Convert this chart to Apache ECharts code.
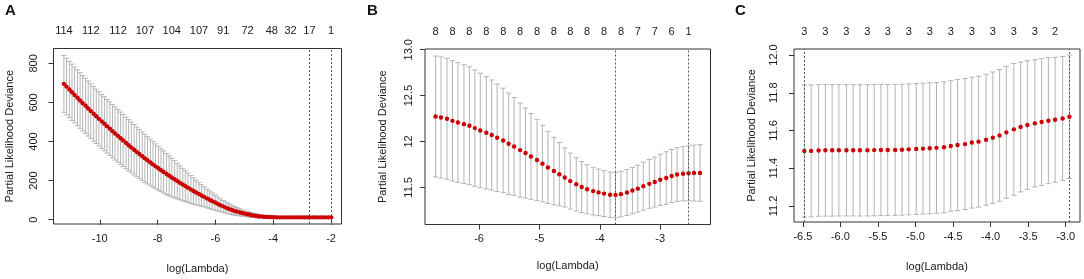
<!DOCTYPE html>
<html>
<head>
<meta charset="utf-8">
<title>cv.glmnet deviance</title>
<script src="https://cdn.jsdelivr.net/npm/echarts@6/dist/echarts.min.js"></script>
<style>
  html, body { margin: 0; padding: 0; background: #fff; }
  #chart { width: 1084px; height: 279px; }
</style>
</head>
<body>
<div id="chart"></div>
<script>
// ---- panel A ----
const lambdaA = [
  -11.24, -11.15, -11.05, -10.96, -10.87, -10.77, -10.68, -10.59, -10.49, -10.40,
  -10.31, -10.21, -10.12, -10.03, -9.93, -9.84, -9.75, -9.65, -9.56, -9.47,
  -9.37, -9.28, -9.19, -9.09, -9.00, -8.91, -8.81, -8.72, -8.63, -8.53,
  -8.44, -8.35, -8.25, -8.16, -8.07, -7.97, -7.88, -7.79, -7.69, -7.60,
  -7.51, -7.41, -7.32, -7.23, -7.13, -7.04, -6.95, -6.85, -6.76, -6.67,
  -6.57, -6.48, -6.39, -6.29, -6.20, -6.11, -6.01, -5.92, -5.83, -5.73,
  -5.64, -5.55, -5.45, -5.36, -5.27, -5.17, -5.08, -4.99, -4.89, -4.80,
  -4.71, -4.61, -4.52, -4.43, -4.33, -4.24, -4.15, -4.05, -3.96, -3.87,
  -3.77, -3.68, -3.59, -3.49, -3.40, -3.31, -3.21, -3.12, -3.03, -2.93,
  -2.84, -2.75, -2.65, -2.56, -2.47, -2.37, -2.28, -2.19, -2.09, -2.00
];
const meanA = [
  695, 681, 666, 652, 638, 624, 610, 596, 583, 569,
  556, 542, 529, 516, 503, 491, 478, 466, 453, 441,
  429, 417, 405, 393, 381, 370, 358, 347, 336, 325,
  314, 304, 293, 283, 273, 263, 253, 244, 234, 225,
  216, 207, 198, 189, 180, 172, 164, 155, 147, 139,
  132, 124, 117, 109, 102, 95, 88, 81, 74, 68,
  62, 56, 51, 46, 42, 38, 34, 31, 28, 25,
  22, 20, 18, 17, 15, 14, 14, 13, 13, 12,
  12, 12, 12, 12, 12, 12, 12, 12, 12, 12,
  12, 12, 12, 12, 12, 12, 12, 12, 12, 12
];
const seA = [
  145, 145, 144, 144, 143, 143, 142, 142, 141, 141,
  140, 140, 139, 139, 138, 138, 137, 137, 136, 136,
  135, 134, 133, 132, 131, 130, 129, 127, 126, 124,
  123, 121, 119, 117, 115, 113, 110, 108, 105, 102,
  99, 95, 91, 87, 83, 79, 75, 71, 67, 63,
  59, 55, 51, 48, 45, 42, 39, 36, 33, 30,
  28, 26, 24, 22, 20, 18, 16, 14, 13, 12,
  11, 10, 9, 8, 7, 6, 5, 4.5, 4, 3.5,
  3, 3, 2.5, 2.5, 2, 2, 2, 2, 2, 2,
  2, 2, 2, 2, 2, 2, 2, 2, 2, 2
];
const topPosA = [-11.24, -10.31, -9.37, -8.44, -7.51, -6.57, -5.73, -4.89, -4.05, -3.40, -2.75, -2.00];
const topTextA = ['114', '112', '112', '107', '104', '107', '91', '72', '48', '32', '17', '1'];
const vlineA = [-2.75, -2.00];
const xTicksA = [-10, -8, -6, -4, -2];
const xTickTextA = ['-10', '-8', '-6', '-4', '-2'];
const yTicksA = [0, 200, 400, 600, 800];
const yTickTextA = ['0', '200', '400', '600', '800'];

// ---- panel B ----
const lambdaB = [
  -6.72, -6.63, -6.53, -6.44, -6.35, -6.25, -6.16, -6.07, -5.98, -5.88,
  -5.79, -5.70, -5.60, -5.51, -5.42, -5.32, -5.23, -5.14, -5.04, -4.95,
  -4.86, -4.76, -4.67, -4.58, -4.49, -4.39, -4.30, -4.21, -4.11, -4.02,
  -3.93, -3.83, -3.74, -3.65, -3.55, -3.46, -3.37, -3.28, -3.18, -3.09,
  -3.00, -2.90, -2.81, -2.72, -2.62, -2.53, -2.44, -2.34
];
const meanB = [
  12.272, 12.261, 12.247, 12.225, 12.207, 12.189, 12.171, 12.146, 12.120, 12.095,
  12.070, 12.040, 12.011, 11.975, 11.946, 11.906, 11.874, 11.837, 11.798, 11.758,
  11.717, 11.678, 11.643, 11.608, 11.568, 11.533, 11.503, 11.479, 11.459, 11.445,
  11.432, 11.419, 11.416, 11.426, 11.444, 11.465, 11.486, 11.513, 11.538, 11.558,
  11.582, 11.602, 11.623, 11.640, 11.649, 11.653, 11.656, 11.657
];
const seB = [
  0.659, 0.660, 0.659, 0.656, 0.652, 0.648, 0.642, 0.634, 0.624, 0.612,
  0.600, 0.586, 0.570, 0.552, 0.533, 0.512, 0.490, 0.467, 0.443, 0.418,
  0.393, 0.368, 0.344, 0.322, 0.305, 0.290, 0.278, 0.268, 0.260, 0.254,
  0.250, 0.247, 0.246, 0.248, 0.250, 0.252, 0.256, 0.261, 0.266, 0.272,
  0.279, 0.286, 0.289, 0.292, 0.295, 0.300, 0.305, 0.308
];
const topPosB = [-6.72, -6.44, -6.16, -5.88, -5.60, -5.32, -5.04, -4.76, -4.49, -4.21, -3.93, -3.65, -3.37, -3.09, -2.81, -2.53];
const topTextB = ['8', '8', '8', '8', '8', '8', '8', '8', '8', '8', '8', '8', '7', '7', '6', '1'];
const vlineB = [-3.74, -2.53];
const xTicksB = [-6, -5, -4, -3];
const xTickTextB = ['-6', '-5', '-4', '-3'];
const yTicksB = [11.5, 12, 12.5, 13];
const yTickTextB = ['11.5', '12', '12.5', '13.0'];

// ---- panel C ----
const lambdaC = [
  -6.48, -6.39, -6.29, -6.20, -6.11, -6.02, -5.92, -5.83, -5.74, -5.64,
  -5.55, -5.46, -5.37, -5.27, -5.18, -5.09, -4.99, -4.90, -4.81, -4.72,
  -4.62, -4.53, -4.44, -4.34, -4.25, -4.16, -4.06, -3.97, -3.88, -3.79,
  -3.69, -3.60, -3.51, -3.41, -3.32, -3.23, -3.14, -3.04, -2.95
];
const meanC = [
  11.491, 11.492, 11.494, 11.495, 11.495, 11.495, 11.495, 11.495, 11.495, 11.495,
  11.496, 11.497, 11.497, 11.497, 11.498, 11.500, 11.502, 11.504, 11.506, 11.508,
  11.511, 11.518, 11.523, 11.528, 11.536, 11.541, 11.551, 11.562, 11.574, 11.590,
  11.606, 11.619, 11.629, 11.638, 11.645, 11.652, 11.657, 11.664, 11.673
];
const seC = [
  0.350, 0.350, 0.349, 0.349, 0.349, 0.348, 0.348, 0.348, 0.348, 0.348,
  0.348, 0.348, 0.347, 0.347, 0.347, 0.347, 0.347, 0.347, 0.347, 0.346,
  0.347, 0.346, 0.347, 0.347, 0.347, 0.347, 0.347, 0.348, 0.349, 0.349,
  0.349, 0.344, 0.341, 0.337, 0.336, 0.334, 0.331, 0.328, 0.327
];
const topPosC = [-6.48, -6.20, -5.92, -5.64, -5.37, -5.09, -4.81, -4.53, -4.25, -3.97, -3.69, -3.41, -3.14];
const topTextC = ['3', '3', '3', '3', '3', '3', '3', '3', '3', '3', '3', '3', '2'];
const vlineC = [-6.48, -2.95];
const xTicksC = [-6.5, -6.0, -5.5, -5.0, -4.5, -4.0, -3.5, -3.0];
const xTickTextC = ['-6.5', '-6.0', '-5.5', '-5.0', '-4.5', '-4.0', '-3.5', '-3.0'];
const yTicksC = [11.2, 11.4, 11.6, 11.8, 12.0];
const yTickTextC = ['11.2', '11.4', '11.6', '11.8', '12.0'];

const FONT = "'Liberation Sans', Arial, sans-serif";
const INK = '#1a1a1a';

const panels = [
  {
    letter: 'A', letterLeft: 5, lam: lambdaA, mean: meanA, se: seA,
    topPos: topPosA, topText: topTextA, vlines: vlineA,
    xTicks: xTicksA, xText: xTickTextA, yTicks: yTicksA, yText: yTickTextA,
    grid: { left: 53.5, top: 48.5, width: 288, height: 176.5 },
    xMin: -11.6, xMax: -1.64, yMin: -22, yMax: 876,
    yLabelMargin: 14, xNameGap: 39, yNameGap: 38
  },
  {
    letter: 'B', letterLeft: 367, lam: lambdaB, mean: meanB, se: seB,
    topPos: topPosB, topText: topTextB, vlines: vlineB,
    xTicks: xTicksB, xText: xTickTextB, yTicks: yTicksB, yText: yTickTextB,
    grid: { left: 425, top: 49, width: 285.5, height: 175.5 },
    xMin: -6.895, xMax: -2.167, yMin: 11.095, yMax: 13.008,
    yLabelMargin: 11, xNameGap: 36, yNameGap: 37
  },
  {
    letter: 'C', letterLeft: 735, lam: lambdaC, mean: meanC, se: seC,
    topPos: topPosC, topText: topTextC, vlines: vlineC,
    xTicks: xTicksC, xText: xTickTextC, yTicks: yTicksC, yText: yTickTextC,
    grid: { left: 794, top: 49, width: 286, height: 173 },
    xMin: -6.618, xMax: -2.809, yMin: 11.115, yMax: 12.032,
    yLabelMargin: 15, xNameGap: 39, yNameGap: 37
  }
];

function lookup(list, text, v) {
  let best = 0;
  for (let i = 1; i < list.length; i++) {
    if (Math.abs(list[i] - v) < Math.abs(list[best] - v)) best = i;
  }
  return text[best];
}

function errorBars(capHalf) {
  return function (params, api) {
    const x = api.value(0);
    const hi = api.coord([x, api.value(1)]);
    const lo = api.coord([x, api.value(2)]);
    const w = api.size([capHalf, 0])[0];
    const style = { stroke: '#b4b4b4', lineWidth: 1, fill: null };
    return {
      type: 'group',
      children: [
        { type: 'line', shape: { x1: hi[0], y1: hi[1], x2: lo[0], y2: lo[1] }, style: style },
        { type: 'line', shape: { x1: hi[0] - w, y1: hi[1], x2: hi[0] + w, y2: hi[1] }, style: style },
        { type: 'line', shape: { x1: lo[0] - w, y1: lo[1], x2: lo[0] + w, y2: lo[1] }, style: style }
      ]
    };
  };
}

const grid = [], xAxis = [], yAxis = [], series = [], title = [];

panels.forEach(function (p, k) {
  grid.push(Object.assign({
    show: true, borderColor: '#333', borderWidth: 1, backgroundColor: 'transparent'
  }, p.grid));

  title.push({
    text: p.letter, left: p.letterLeft, top: 3, padding: 0,
    textStyle: { fontFamily: FONT, fontSize: 15, fontWeight: 'bold', color: '#111' }
  });

  // bottom axis
  xAxis.push({
    type: 'value', gridIndex: k, position: 'bottom',
    min: p.xMin, max: p.xMax,
    name: 'log(Lambda)', nameLocation: 'middle', nameGap: p.xNameGap,
    nameTextStyle: { fontFamily: FONT, fontSize: 11, color: INK },
    axisLine: { show: false },
    axisTick: { show: true, inside: false, length: 5, customValues: p.xTicks, lineStyle: { color: '#333' } },
    axisLabel: {
      customValues: p.xTicks, margin: 9, fontFamily: FONT, fontSize: 11, color: INK,
      formatter: function (v) { return lookup(p.xTicks, p.xText, v); }
    },
    splitLine: { show: false }
  });
  // top axis: number of nonzero coefficients
  xAxis.push({
    type: 'value', gridIndex: k, position: 'top',
    min: p.xMin, max: p.xMax,
    axisLine: { show: false },
    axisTick: { show: false },
    axisLabel: {
      customValues: p.topPos, margin: 12, fontFamily: FONT, fontSize: 11, color: INK,
      formatter: function (v) { return lookup(p.topPos, p.topText, v); }
    },
    splitLine: { show: false }
  });
  yAxis.push({
    type: 'value', gridIndex: k,
    min: p.yMin, max: p.yMax,
    name: 'Partial Likelihood Deviance', nameLocation: 'middle', nameGap: p.yNameGap,
    nameTextStyle: { fontFamily: FONT, fontSize: 11, color: INK },
    axisLine: { show: false },
    axisTick: { show: true, inside: false, length: 5, customValues: p.yTicks, lineStyle: { color: '#333' } },
    axisLabel: {
      customValues: p.yTicks, rotate: 90, margin: p.yLabelMargin,
      fontFamily: FONT, fontSize: 11, color: INK,
      formatter: function (v) { return lookup(p.yTicks, p.yText, v); }
    },
    splitLine: { show: false }
  });

  const span = p.lam[p.lam.length - 1] - p.lam[0];
  series.push({
    type: 'custom',
    xAxisIndex: 2 * k, yAxisIndex: k,
    renderItem: errorBars(span * 0.01),
    encode: { x: 0, y: [1, 2] },
    data: p.lam.map(function (x, i) { return [x, p.mean[i] + p.se[i], p.mean[i] - p.se[i]]; }),
    silent: true, z: 2
  });
  series.push({
    type: 'scatter',
    xAxisIndex: 2 * k, yAxisIndex: k,
    data: p.lam.map(function (x, i) { return [x, p.mean[i]]; }),
    symbol: 'circle', symbolSize: 4.4,
    itemStyle: { color: '#cc0000', opacity: 1 },
    silent: true, z: 3,
    markLine: {
      silent: true, symbol: ['none', 'none'],
      label: { show: false },
      lineStyle: { type: [2, 2], color: '#555', width: 1 },
      data: p.vlines.map(function (v) { return { xAxis: v }; })
    }
  });
});

const chart = echarts.init(document.getElementById('chart'), null, { renderer: 'canvas' });
chart.setOption({
  animation: false,
  backgroundColor: '#fff',
  title: title,
  grid: grid,
  xAxis: xAxis,
  yAxis: yAxis,
  series: series
});
</script>
</body>
</html>
